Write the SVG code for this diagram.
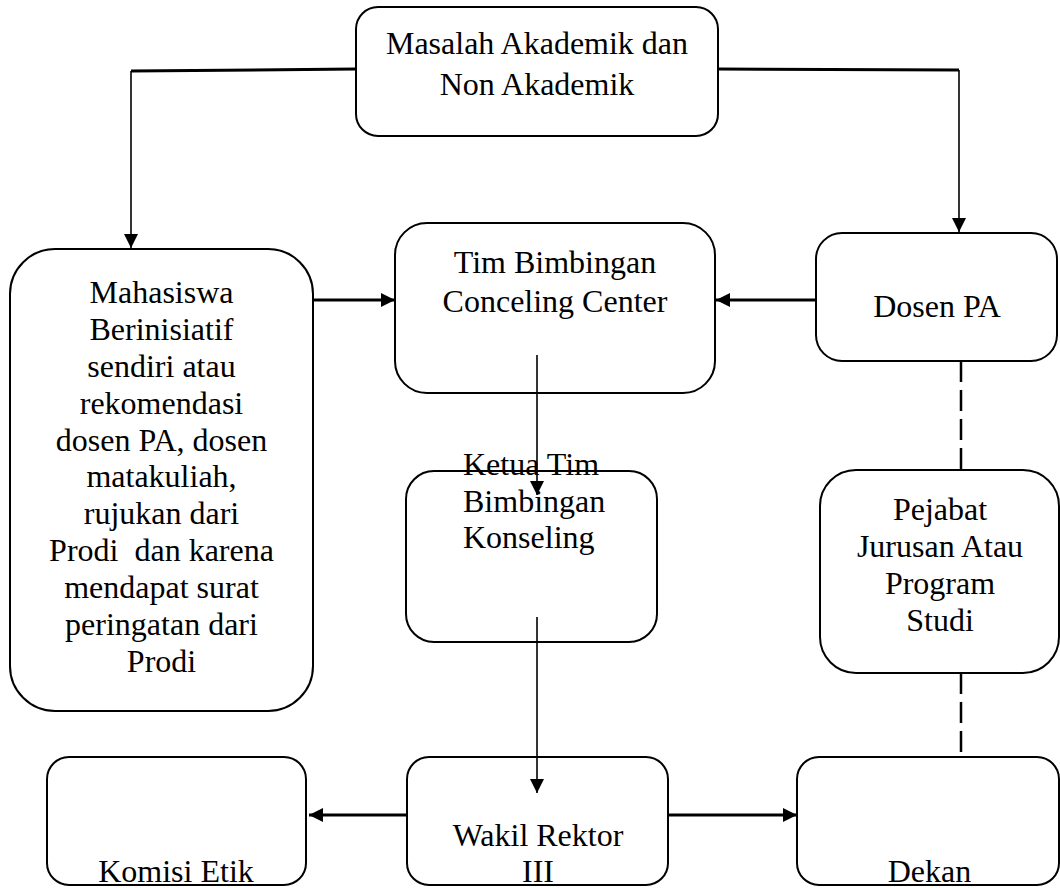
<svg xmlns="http://www.w3.org/2000/svg" width="1060" height="888" viewBox="0 0 1060 888">
<style>
.box{fill:#fff;stroke:#000;stroke-width:2}
.t{font-family:"Liberation Serif","Times New Roman",serif;font-size:32px;fill:#000;text-anchor:middle}
.tl{font-family:"Liberation Serif","Times New Roman",serif;font-size:32px;fill:#000;text-anchor:start}
.c{fill:none;stroke:#000}
.thick{stroke-width:3}
.thin{stroke-width:1.6}
.dash{stroke-width:2.5;stroke-dasharray:21 8}
</style>
<defs>
<marker id="ah" markerUnits="userSpaceOnUse" markerWidth="15" markerHeight="14" refX="14" refY="7" orient="auto">
<path d="M0,0 L14,7 L0,14 z" fill="#000"/>
</marker>
</defs>
<rect width="1060" height="888" fill="#fff"/>
<g id="masalah">
<rect class="box" x="356" y="7" width="362" height="129" rx="22"/>
<text class="t" x="537" y="54">Masalah Akademik dan</text>
<text class="t" x="537" y="95">Non Akademik</text>
</g>
<g id="mahasiswa">
<rect class="box" x="10" y="249" width="303" height="462" rx="45"/>
<text class="t" x="161.5" y="303">Mahasiswa</text>
<text class="t" x="161.5" y="340">Berinisiatif</text>
<text class="t" x="161.5" y="377">sendiri atau</text>
<text class="t" x="161.5" y="414">rekomendasi</text>
<text class="t" x="161.5" y="451">dosen PA, dosen</text>
<text class="t" x="161.5" y="487">matakuliah,</text>
<text class="t" x="161.5" y="524">rujukan dari</text>
<text class="t" x="161.5" y="561" xml:space="preserve">Prodi  dan karena</text>
<text class="t" x="161.5" y="598">mendapat surat</text>
<text class="t" x="161.5" y="635">peringatan dari</text>
<text class="t" x="161.5" y="672">Prodi</text>
</g>
<g id="tim">
<rect class="box" x="395" y="223" width="320" height="170" rx="32"/>
<text class="t" x="555" y="273">Tim Bimbingan</text>
<text class="t" x="555" y="312">Conceling Center</text>
</g>
<g id="dosen">
<rect class="box" x="816" y="233" width="241" height="128" rx="26"/>
<text class="t" x="937" y="317">Dosen PA</text>
</g>
<g id="ketua">
<rect class="box" x="406" y="471" width="251" height="171" rx="28"/>
</g>
<g id="pejabat">
<rect class="box" x="820" y="470" width="239" height="203" rx="36"/>
<text class="t" x="940" y="520">Pejabat</text>
<text class="t" x="940" y="557">Jurusan Atau</text>
<text class="t" x="940" y="594">Program</text>
<text class="t" x="940" y="631">Studi</text>
</g>
<g id="komisi">
<rect class="box" x="47" y="757" width="259" height="128" rx="22"/>
<text class="t" x="176" y="882">Komisi Etik</text>
</g>
<g id="wakil">
<rect class="box" x="407" y="757" width="261" height="128" rx="22"/>
<text class="t" x="538" y="846">Wakil Rektor</text>
<text class="t" x="538" y="882">III</text>
</g>
<g id="dekan">
<rect class="box" x="797" y="757" width="262" height="128" rx="22"/>
<text class="t" x="929.5" y="882">Dekan</text>
</g>
<g id="connectors">
<path class="c thick" d="M356,69 L131,71"/>
<path class="c thin" d="M131,71 L131,248" marker-end="url(#ah)"/>
<path class="c thick" d="M718,69 L959,70"/>
<path class="c thin" d="M959,70 L959,232" marker-end="url(#ah)"/>
<path class="c thick" d="M313,300 L395,300" marker-end="url(#ah)"/>
<path class="c thick" d="M816,300 L716,300" marker-end="url(#ah)"/>
<path class="c thin" d="M537,355 L537,495" marker-end="url(#ah)"/>
<path class="c thin" d="M537,617 L537,793" marker-end="url(#ah)"/>
<path class="c thick" d="M407,815 L309,815" marker-end="url(#ah)"/>
<path class="c thick" d="M668,815 L797,815" marker-end="url(#ah)"/>
<path class="c dash" d="M961,361 L961,470"/>
<path class="c dash" d="M961,673 L961,757"/>
</g>
<g id="ketua-label">
<text class="tl" x="463" y="475">Ketua Tim</text>
<text class="tl" x="463" y="512">Bimbingan</text>
<text class="tl" x="463" y="548">Konseling</text>
</g>
</svg>
